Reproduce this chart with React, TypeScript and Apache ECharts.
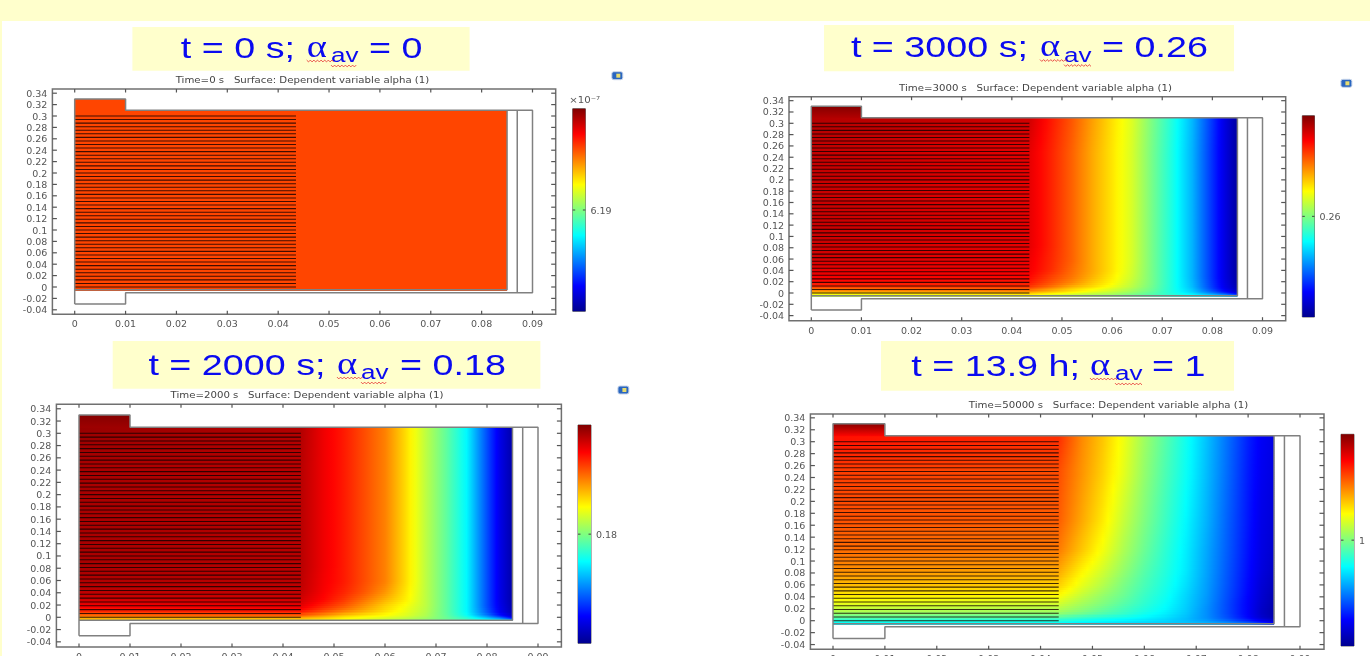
import React, { useEffect, useRef } from "react";
import * as echarts from "echarts";

const xTicks = [0, 0.01, 0.02, 0.03, 0.04, 0.05, 0.06, 0.07, 0.08, 0.09];
const yTicks = [-0.04, -0.02, 0, 0.02, 0.04, 0.06, 0.08, 0.1, 0.12, 0.14, 0.16, 0.18, 0.2, 0.22, 0.24, 0.26, 0.28, 0.3, 0.32, 0.34];

// alpha surface, given as position on the colour scale (0 = bottom, 1 = top)
const columnsX = [0, 0.0435, 0.048, 0.052, 0.056, 0.06, 0.064, 0.068, 0.072, 0.076, 0.08, 0.0825, 0.085];
const rowEdges = [-0.005, -0.002, 0.002, 0.006, 0.01, 0.016, 0.024, 0.035, 0.05, 0.07, 0.1, 0.14, 0.2, 0.3, 0.31];

const surface0 = [[0.807, 0.807, 0.807, 0.807, 0.807, 0.807, 0.807, 0.807, 0.807, 0.807, 0.807, 0.807, 0.807]];
const edges0 = [-0.005, 0.31];

const surface3000 = [
  [0.56, 0.6, 0.57, 0.55, 0.53, 0.51, 0.48, 0.45, 0.42, 0.39, 0.36, 0.33, 0.28],
  [0.63, 0.66, 0.62, 0.59, 0.56, 0.54, 0.5, 0.46, 0.41, 0.36, 0.28, 0.22, 0.14],
  [0.7, 0.72, 0.68, 0.64, 0.6, 0.565, 0.525, 0.47, 0.4, 0.33, 0.22, 0.14, 0.07],
  [0.76, 0.78, 0.72, 0.67, 0.63, 0.59, 0.54, 0.48, 0.4, 0.32, 0.19, 0.11, 0.05],
  [0.82, 0.82, 0.76, 0.7, 0.66, 0.61, 0.555, 0.485, 0.4, 0.31, 0.18, 0.1, 0.04],
  [0.86, 0.85, 0.79, 0.74, 0.68, 0.63, 0.565, 0.49, 0.4, 0.305, 0.175, 0.095, 0.03],
  [0.885, 0.87, 0.81, 0.76, 0.7, 0.64, 0.575, 0.49, 0.4, 0.3, 0.17, 0.09, 0.025],
  [0.9, 0.885, 0.83, 0.77, 0.71, 0.65, 0.58, 0.49, 0.4, 0.3, 0.17, 0.09, 0.02],
  [0.915, 0.89, 0.835, 0.78, 0.71, 0.65, 0.585, 0.49, 0.4, 0.3, 0.17, 0.09, 0.02],
  [0.925, 0.9, 0.84, 0.78, 0.71, 0.65, 0.585, 0.49, 0.4, 0.3, 0.17, 0.09, 0.02],
  [0.93, 0.9, 0.84, 0.78, 0.71, 0.65, 0.585, 0.49, 0.4, 0.3, 0.17, 0.09, 0.02],
  [0.93, 0.9, 0.84, 0.78, 0.71, 0.65, 0.585, 0.49, 0.4, 0.3, 0.17, 0.09, 0.02],
  [0.935, 0.9, 0.84, 0.78, 0.71, 0.65, 0.585, 0.49, 0.4, 0.3, 0.17, 0.09, 0.02],
  [0.95, 0.92, 0.85, 0.79, 0.72, 0.655, 0.59, 0.495, 0.405, 0.305, 0.175, 0.09, 0.02],
];

const surface2000 = [
  [0.68, 0.66, 0.64, 0.62, 0.6, 0.57, 0.55, 0.52, 0.48, 0.44, 0.4, 0.36, 0.28],
  [0.71, 0.7, 0.67, 0.635, 0.61, 0.59, 0.565, 0.53, 0.48, 0.42, 0.32, 0.25, 0.14],
  [0.76, 0.77, 0.72, 0.67, 0.64, 0.62, 0.59, 0.545, 0.475, 0.39, 0.26, 0.16, 0.07],
  [0.8, 0.82, 0.77, 0.72, 0.68, 0.64, 0.6, 0.55, 0.47, 0.375, 0.22, 0.12, 0.05],
  [0.85, 0.87, 0.81, 0.76, 0.71, 0.66, 0.61, 0.555, 0.47, 0.37, 0.21, 0.11, 0.04],
  [0.89, 0.9, 0.84, 0.79, 0.73, 0.67, 0.62, 0.56, 0.47, 0.37, 0.2, 0.105, 0.035],
  [0.92, 0.92, 0.87, 0.82, 0.76, 0.7, 0.64, 0.56, 0.47, 0.37, 0.2, 0.1, 0.03],
  [0.94, 0.935, 0.88, 0.84, 0.79, 0.73, 0.65, 0.56, 0.47, 0.37, 0.2, 0.1, 0.03],
  [0.95, 0.94, 0.885, 0.85, 0.8, 0.75, 0.66, 0.56, 0.47, 0.37, 0.2, 0.1, 0.03],
  [0.96, 0.945, 0.89, 0.85, 0.8, 0.75, 0.66, 0.56, 0.47, 0.37, 0.2, 0.1, 0.03],
  [0.96, 0.945, 0.89, 0.85, 0.8, 0.75, 0.66, 0.56, 0.47, 0.37, 0.2, 0.1, 0.03],
  [0.96, 0.945, 0.89, 0.85, 0.8, 0.75, 0.66, 0.56, 0.47, 0.37, 0.2, 0.1, 0.03],
  [0.96, 0.945, 0.89, 0.85, 0.8, 0.75, 0.66, 0.56, 0.47, 0.37, 0.2, 0.1, 0.03],
  [0.975, 0.95, 0.89, 0.85, 0.8, 0.75, 0.66, 0.56, 0.47, 0.37, 0.2, 0.1, 0.03],
];

const surface50000 = [
  [0.36, 0.36, 0.35, 0.345, 0.34, 0.335, 0.33, 0.32, 0.31, 0.29, 0.26, 0.22, 0.17],
  [0.39, 0.39, 0.37, 0.36, 0.35, 0.34, 0.33, 0.315, 0.29, 0.25, 0.19, 0.14, 0.09],
  [0.44, 0.43, 0.41, 0.39, 0.375, 0.36, 0.34, 0.31, 0.27, 0.21, 0.14, 0.09, 0.05],
  [0.48, 0.47, 0.44, 0.42, 0.4, 0.375, 0.35, 0.315, 0.265, 0.2, 0.125, 0.07, 0.035],
  [0.52, 0.51, 0.48, 0.45, 0.425, 0.39, 0.36, 0.32, 0.265, 0.195, 0.12, 0.065, 0.03],
  [0.56, 0.545, 0.51, 0.475, 0.44, 0.405, 0.37, 0.325, 0.265, 0.195, 0.12, 0.065, 0.03],
  [0.6, 0.58, 0.535, 0.5, 0.46, 0.42, 0.38, 0.33, 0.27, 0.195, 0.12, 0.07, 0.035],
  [0.645, 0.625, 0.565, 0.52, 0.48, 0.43, 0.39, 0.335, 0.275, 0.2, 0.125, 0.075, 0.04],
  [0.69, 0.67, 0.6, 0.55, 0.495, 0.445, 0.4, 0.345, 0.28, 0.205, 0.13, 0.08, 0.05],
  [0.735, 0.71, 0.635, 0.58, 0.52, 0.46, 0.41, 0.355, 0.285, 0.21, 0.135, 0.09, 0.06],
  [0.77, 0.755, 0.68, 0.615, 0.545, 0.48, 0.42, 0.36, 0.29, 0.215, 0.14, 0.095, 0.07],
  [0.795, 0.785, 0.71, 0.645, 0.57, 0.5, 0.435, 0.37, 0.3, 0.22, 0.145, 0.1, 0.08],
  [0.815, 0.8, 0.73, 0.67, 0.6, 0.52, 0.45, 0.385, 0.31, 0.23, 0.15, 0.11, 0.09],
  [0.86, 0.83, 0.74, 0.68, 0.61, 0.53, 0.46, 0.39, 0.315, 0.235, 0.155, 0.115, 0.095],
];

// colour position at the bottom and top of the cap block (y 0.31 to 0.33)
const cap0 = [0.807, 0.807];
const cap3000 = [0.95, 0.995];
const cap2000 = [0.97, 0.995];
const cap50000 = [0.87, 0.99];

// plate lines in the left part of the domain
const plateLinesY = [
  0.3, 0.29375, 0.2875, 0.28125, 0.275, 0.26875, 0.2625, 0.25625, 0.25, 0.24375, 0.2375, 0.23125, 0.225, 0.21875, 0.2125, 0.20625,
  0.2, 0.19375, 0.1875, 0.18125, 0.175, 0.16875, 0.1625, 0.15625, 0.15, 0.14375, 0.1375, 0.13125, 0.125, 0.11875, 0.1125, 0.10625,
  0.1, 0.09375, 0.0875, 0.08125, 0.075, 0.06875, 0.0625, 0.05625, 0.05, 0.04375, 0.0375, 0.03125, 0.025, 0.01875, 0.0125, 0.00625, 0, ];
const plateEndX = 0.0435;

// geometry outlines
const outlineOuter = [[0, -0.03], [0, 0.33], [0.01, 0.33], [0.01, 0.31], [0.09, 0.31], [0.09, -0.01], [0.01, -0.01], [0.01, -0.03], [0, -0.03]];
const outlineBottom = [[0, -0.005], [0.085, -0.005], [0.085, 0.31]];
const outlineInner = [[0.087, -0.01], [0.087, 0.31]];

const jetStops: number[][] = [
  [0, 0, 0, 143], [0.125, 0, 0, 255], [0.375, 0, 255, 255], [0.625, 255, 255, 0], [0.875, 255, 0, 0], [1, 128, 0, 0],
];
const barPositions = [0, 0.125, 0.375, 0.625, 0.875, 1];

function jet(t: number): string {
  for (let i = 1; i < jetStops.length; i++) {
    if (t <= jetStops[i][0]) {
      const a = jetStops[i - 1], b = jetStops[i];
      const f = (t - a[0]) / (b[0] - a[0]);
      return `rgb(${Math.round(a[1] + f * (b[1] - a[1]))},${Math.round(a[2] + f * (b[2] - a[2]))},${Math.round(a[3] + f * (b[3] - a[3]))})`;
    }
  }
  return "rgb(128,0,0)";
}

const panels = [
  {
    time: "Time=0 s   Surface: Dependent variable alpha (1)", rows: surface0, edges: edges0, cap: cap0, barLabel: "6.19", exponent: true,
    L: 52.4, R: 555.7, T: 89, B: 314.3, x0: 74.7, x9: 532.5, y0: 287, y3: 116,
    bar: [572.7, 585.4, 108.7, 311.3], titleY: 80, titleX: 302.5,
    band: [132.4, 27, 337.2, 43.7], lead: "t = 0 s;", rest: "= 0", leadR: 295, alphaX: 306.7, avX: 331, restX: 369, base: 58, icon: [617.3, 75.7],
  },
  {
    time: "Time=3000 s   Surface: Dependent variable alpha (1)", rows: surface3000, edges: rowEdges, cap: cap3000, barLabel: "0.26", exponent: false,
    L: 789, R: 1285.7, T: 96.7, B: 320.7, x0: 811.3, x9: 1262.5, y0: 293, y3: 123.3,
    bar: [1302.3, 1314.5, 115.7, 317], titleY: 87.5, titleX: 1035.5,
    band: [824, 25, 410, 46.3], lead: "t = 3000 s;", rest: "= 0.26", leadR: 1028, alphaX: 1040, avX: 1064, restX: 1102, base: 57.5, icon: [1346.4, 83.3],
  },
  {
    time: "Time=2000 s   Surface: Dependent variable alpha (1)", rows: surface2000, edges: rowEdges, cap: cap2000, barLabel: "0.18", exponent: false,
    L: 56.4, R: 561.4, T: 404.3, B: 647, x0: 79, x9: 538, y0: 617.3, y3: 433.3,
    bar: [578, 591, 425, 643.3], titleY: 394.5, titleX: 307,
    band: [112.7, 341, 427.7, 47.7], lead: "t = 2000 s;", rest: "= 0.18", leadR: 325.5, alphaX: 337, avX: 361, restX: 400, base: 375, icon: [623.4, 390],
  },
  {
    time: "Time=50000 s   Surface: Dependent variable alpha (1)", rows: surface50000, edges: rowEdges, cap: cap50000, barLabel: "1", exponent: false,
    L: 810.4, R: 1324, T: 414, B: 649.3, x0: 833, x9: 1300, y0: 620.7, y3: 441.7,
    bar: [1341, 1354, 434.3, 646], titleY: 404.5, titleX: 1108.5,
    band: [881, 341, 353, 49.7], lead: "t = 13.9 h;", rest: "= 1", leadR: 1080, alphaX: 1090, avX: 1115, restX: 1152, base: 376, icon: null,
  },
];

const TICK = "#555";
const LABEL = "#555";
const LINE = "#808080";
const BLUE = "#0a0af0";
const CREAM = "#ffffcc";
const tickFont = { fontFamily: "DejaVu Sans", fontSize: 9.5, color: LABEL };

function wave(x1: number, x2: number, y: number) {
  const pts: number[][] = [];
  let up = true;
  for (let x = x1; x <= x2; x += 1.8) {
    pts.push([x, y + (up ? -0.9 : 0.9)]);
    up = !up;
  }
  return { type: "polyline", silent: true, shape: { points: pts }, style: { stroke: "#e8403c", lineWidth: 0.9, fill: "none" } };
}

// Shading of one strip of the surface: the table rows are blended across the strip's
// height and the colour scale is followed between two table columns.
function stripStops(a: number[], b: number[], f: number) {
  const stops: { offset: number; color: string }[] = [];
  const sub = 4;
  for (let c = 0; c < columnsX.length - 1; c++) {
    const t0 = a[c] + f * (b[c] - a[c]);
    const t1 = a[c + 1] + f * (b[c + 1] - a[c + 1]);
    const n = c === 0 ? 1 : sub;
    for (let k = 0; k < n; k++) {
      const s = k / n;
      stops.push({ offset: (columnsX[c] + s * (columnsX[c + 1] - columnsX[c])) / 0.085, color: jet(t0 + s * (t1 - t0)) });
    }
  }
  const last = columnsX.length - 1;
  stops.push({ offset: 1, color: jet(a[last] + f * (b[last] - a[last])) });
  return stops;
}

function buildStrips(rows: number[][], edges: number[]) {
  // [yLow, yHigh, rowA, rowB, blend]
  const out: number[][] = [];
  if (rows.length === 1) return [[edges[0], edges[1], 0, 0, 0]];
  const centre = rows.map((_, r) => (edges[r] + edges[r + 1]) / 2);
  out.push([edges[0], centre[0], 0, 0, 0]);
  for (let r = 0; r < rows.length - 1; r++) {
    const dy = centre[r + 1] - centre[r];
    const n = Math.max(2, Math.ceil(dy / 0.0035));
    for (let k = 0; k < n; k++) {
      out.push([centre[r] + (dy * k) / n, centre[r] + (dy * (k + 1)) / n, r, r + 1, (k + 0.5) / n]);
    }
  }
  out.push([centre[rows.length - 1], edges[rows.length], rows.length - 1, rows.length - 1, 0]);
  return out;
}

function buildOption() {
  const grid: any[] = [], xAxis: any[] = [], yAxis: any[] = [], series: any[] = [], graphic: any[] = [];

  graphic.push({ type: "rect", silent: true, z: -1, shape: { x: 0, y: 0, width: 1370, height: 21 }, style: { fill: CREAM } });
  graphic.push({ type: "rect", silent: true, z: -1, shape: { x: 0, y: 0, width: 2, height: 656 }, style: { fill: CREAM } });

  panels.forEach((p, i) => {
    const kx = (p.x9 - p.x0) / 0.09, ky = (p.y0 - p.y3) / 0.3;
    const xMin = (p.L - p.x0) / kx, xMax = (p.R - p.x0) / kx;
    const yMax = (p.y0 - p.T) / ky, yMin = (p.y0 - p.B) / ky;
    const g = i * 2;
    grid.push({ left: p.L, top: p.T, width: p.R - p.L, height: p.B - p.T, show: true, borderColor: "#707070", borderWidth: 1.5, backgroundColor: "#fff", outerBoundsMode: "none", containLabel: false });
    grid.push({ left: p.bar[0], top: p.bar[2], width: p.bar[1] - p.bar[0], height: p.bar[3] - p.bar[2], show: true, borderColor: "#666", borderWidth: 1, outerBoundsMode: "none", containLabel: false });

    const noLine = { show: false, onZero: false };
    const xBase = { type: "value", min: xMin, max: xMax, gridIndex: g, splitLine: { show: false }, axisLine: noLine, axisTick: { show: false } };
    const yBase = { type: "value", min: yMin, max: yMax, gridIndex: g, splitLine: { show: false }, axisLine: noLine, axisTick: { show: false } };
    xAxis.push({ ...xBase, position: "bottom", axisLabel: { show: true, margin: 4.5, customValues: xTicks, formatter: (v: number) => String(v), ...tickFont } });
    xAxis.push({ ...xBase, position: "top", axisLabel: { show: false } });
    yAxis.push({ ...yBase, position: "left", axisLabel: { show: true, margin: 5, customValues: yTicks, formatter: (v: number) => String(v), ...tickFont } });
    yAxis.push({ ...yBase, position: "right", axisLabel: { show: false } });

    // colour bar axes
    xAxis.push({ type: "value", min: 0, max: 1, gridIndex: g + 1, show: false });
    yAxis.push({
      type: "value", min: 0, max: 1, gridIndex: g + 1, position: "right", splitLine: { show: false }, axisLine: noLine,
      axisTick: { show: false },
      axisLabel: { show: true, margin: 5, customValues: [0.5], formatter: () => p.barLabel, ...tickFont },
    });

    const onPlot = { xAxisIndex: i * 3, yAxisIndex: i * 3 };

    series.push({
      type: "custom", ...onPlot, silent: true, z: 2, clip: true,
      data: buildStrips(p.rows, p.edges).map((s) => [0, s[0], 0.085, s[1], s[2], s[3], s[4]]),
      encode: { x: [0, 2], y: [1, 3] },
      renderItem: (_: any, api: any) => {
        const a = api.coord([api.value(0), api.value(3)]);
        const b = api.coord([api.value(2), api.value(1)]);
        const stops = stripStops(p.rows[api.value(4)], p.rows[api.value(5)], api.value(6));
        const top = Math.round(a[1]);
        return {
          type: "rect", shape: { x: a[0], y: top, width: b[0] - a[0], height: Math.round(b[1]) - top + 1 },
          style: { fill: new echarts.graphic.LinearGradient(0, 0, 1, 0, stops) },
        };
      },
    });

    series.push({
      type: "custom", ...onPlot, silent: true, z: 2,
      data: [[0, 0.31, 0.01, 0.33]],
      encode: { x: [0, 2], y: [1, 3] },
      renderItem: (_: any, api: any) => {
        const a = api.coord([api.value(0), api.value(3)]);
        const b = api.coord([api.value(2), api.value(1)]);
        return {
          type: "rect", shape: { x: a[0], y: a[1], width: b[0] - a[0], height: b[1] - a[1] + 0.6 },
          style: { fill: new echarts.graphic.LinearGradient(0, 0, 0, 1, [{ offset: 0, color: jet(p.cap[1]) }, { offset: 1, color: jet(p.cap[0]) }]) },
        };
      },
    });

    series.push({
      type: "custom", ...onPlot, silent: true, z: 3,
      data: plateLinesY.map((y) => [0, y, plateEndX, y]),
      encode: { x: [0, 2], y: [1, 3] },
      renderItem: (_: any, api: any) => {
        const a = api.coord([api.value(0), api.value(1)]);
        const b = api.coord([api.value(2), api.value(3)]);
        return { type: "line", shape: { x1: a[0], y1: a[1], x2: b[0], y2: b[1] }, style: { stroke: "#120000", lineWidth: 1.05, opacity: 0.8 } };
      },
    });

    [outlineOuter, outlineBottom, outlineInner].forEach((pts) => {
      series.push({
        type: "line", ...onPlot, silent: true, z: 4, symbol: "none", data: pts, clip: false,
        lineStyle: { color: LINE, width: 1.5 },
      });
    });

    // inward ticks on all four sides of the frame: [x, y, dx, dy]
    const tickData = [
      ...xTicks.map((x) => [x, yMin, 0, -3.5]),
      ...xTicks.map((x) => [x, yMax, 0, 3.5]),
      ...yTicks.map((y) => [xMin, y, 4.5, 0]),
      ...yTicks.map((y) => [xMax, y, -4.5, 0]),
    ];
    series.push({
      type: "custom", ...onPlot, silent: true, z: 5, clip: false,
      data: tickData,
      encode: { x: 0, y: 1 },
      renderItem: (_: any, api: any) => {
        const a = api.coord([api.value(0), api.value(1)]);
        return { type: "line", shape: { x1: a[0], y1: a[1], x2: a[0] + api.value(2), y2: a[1] + api.value(3) }, style: { stroke: TICK, lineWidth: 1.2 } };
      },
    });

    // colour bar
    series.push({
      type: "custom", xAxisIndex: i * 3 + 2, yAxisIndex: i * 3 + 2, silent: true, z: 2,
      data: [[0, 0, 1, 1]],
      encode: { x: [0, 2], y: [1, 3] },
      renderItem: (_: any, api: any) => {
        const a = api.coord([api.value(0), api.value(3)]);
        const b = api.coord([api.value(2), api.value(1)]);
        return {
          type: "rect", shape: { x: a[0], y: a[1], width: b[0] - a[0], height: b[1] - a[1] },
          style: { fill: new echarts.graphic.LinearGradient(0, 1, 0, 0, barPositions.map((t) => ({ offset: t, color: jet(t) }))) },
        };
      },
    });
    series.push({
      type: "custom", xAxisIndex: i * 3 + 2, yAxisIndex: i * 3 + 2, silent: true, z: 5, clip: false,
      data: [[0, 0.5, 2.5], [1, 0.5, -2.5]],
      encode: { x: 0, y: 1 },
      renderItem: (_: any, api: any) => {
        const a = api.coord([api.value(0), api.value(1)]);
        return { type: "line", shape: { x1: a[0], y1: a[1], x2: a[0] + api.value(2), y2: a[1] }, style: { stroke: "#444", lineWidth: 1 } };
      },
    });

    graphic.push({
      type: "text", silent: true, x: p.titleX, y: p.titleY, scaleX: 1.2,
      style: { text: p.time, fontFamily: "DejaVu Sans", fontSize: 8.5, fill: "#444", align: "center", verticalAlign: "middle" },
    });

    // big heading on its cream band
    graphic.push({ type: "rect", silent: true, z: -1, shape: { x: p.band[0], y: p.band[1], width: p.band[2], height: p.band[3] }, style: { fill: CREAM } });
    const big = { fontFamily: "Liberation Sans", fontSize: 29, fill: BLUE };
    graphic.push({ type: "text", silent: true, x: p.leadR, y: p.base - 24.5, scaleX: 1.3, style: { ...big, text: p.lead, align: "right", verticalAlign: "top" } });
    graphic.push({ type: "text", silent: true, x: p.alphaX, y: p.base - 27.5, scaleX: 1.2, style: { fontFamily: "Liberation Serif", fontSize: 32, fill: BLUE, text: "α", align: "left", verticalAlign: "top" } });
    graphic.push({ type: "text", silent: true, x: p.avX, y: p.base - 13.5, scaleX: 1.24, style: { fontFamily: "Liberation Sans", fontSize: 21, fill: BLUE, text: "av", align: "left", verticalAlign: "top" } });
    graphic.push({ type: "text", silent: true, x: p.restX, y: p.base - 24.5, scaleX: 1.3, style: { ...big, text: p.rest, align: "left", verticalAlign: "top" } });
    graphic.push(wave(p.alphaX, p.avX + 3, p.base + 3));
    graphic.push(wave(p.avX, p.avX + 27, p.base + 8));

    if (p.exponent) {
      graphic.push({ type: "text", silent: true, x: p.bar[0] + 12, y: p.bar[2] - 9, scaleX: 1.2, style: { text: "×10⁻⁷", fontFamily: "DejaVu Sans", fontSize: 8.5, fill: LABEL, align: "center", verticalAlign: "middle" } });
    }
    if (p.icon) {
      graphic.push({ type: "rect", silent: true, shape: { x: p.icon[0] - 5.5, y: p.icon[1] - 4, width: 11, height: 8, r: 2 }, style: { fill: "#2a66c0", stroke: "#c9d6ea", lineWidth: 1 } });
      graphic.push({ type: "rect", silent: true, shape: { x: p.icon[0] - 1, y: p.icon[1] - 2, width: 4, height: 4 }, style: { fill: "#e8dc70" } });
    }
  });

  return { animation: false, backgroundColor: "#fff", tooltip: { show: false }, legend: { show: false }, grid, xAxis, yAxis, series, graphic };
}

export default function App() {
  const ref = useRef<HTMLDivElement>(null);
  useEffect(() => {
    document.body.style.margin = "0";
    document.body.style.overflow = "hidden";
    const chart = echarts.init(ref.current!, undefined, { renderer: "svg" });
    chart.setOption(buildOption());
    return () => chart.dispose();
  }, []);
  return <div ref={ref} style={{ width: 1370, height: 656, filter: "blur(0.45px)" }} />;
}
